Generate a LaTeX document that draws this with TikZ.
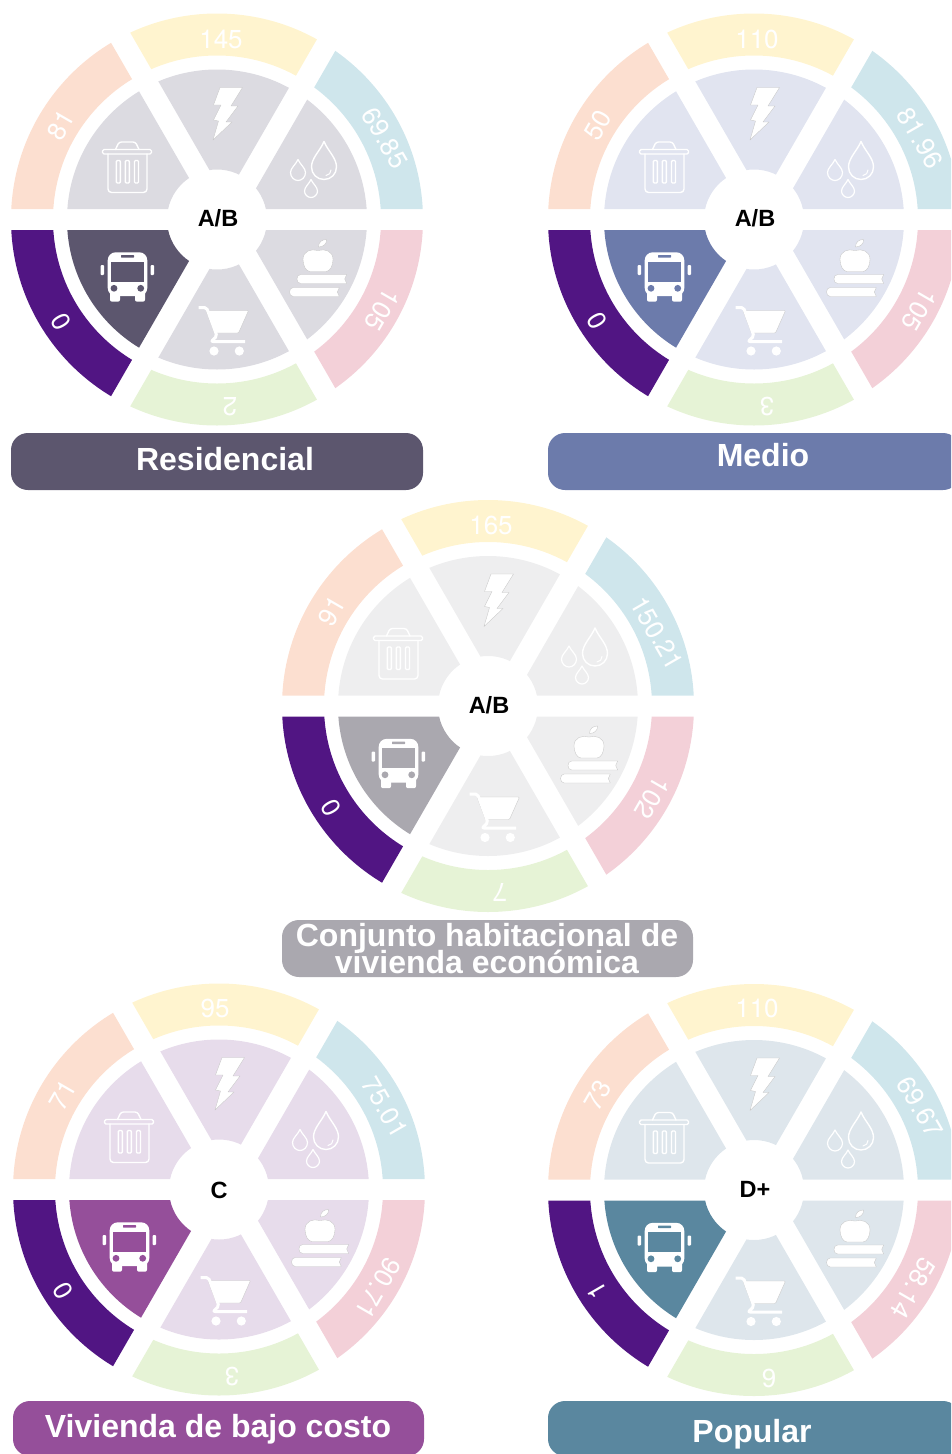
\documentclass[tikz,border=0pt]{standalone}
\usepackage{graphicx}
\usepackage{fontspec}
\setmainfont{Liberation Sans}
\newfontfamily\ringfont{TeX Gyre Heros}
\definecolor{ringPeach}{HTML}{FCDFD0}
\definecolor{ringYellow}{HTML}{FFF4CF}
\definecolor{ringBlue}{HTML}{CFE6EC}
\definecolor{ringPink}{HTML}{F3D0D8}
\definecolor{ringGreen}{HTML}{E6F3D6}
\definecolor{ringPurple}{HTML}{511583}
\definecolor{darkA}{HTML}{5C566E}\definecolor{lightA}{HTML}{DCDBE1}
\definecolor{darkB}{HTML}{6C7BAB}\definecolor{lightB}{HTML}{E1E4F0}
\definecolor{darkC}{HTML}{AAA8AF}\definecolor{lightC}{HTML}{EEEEEF}
\definecolor{darkD}{HTML}{954F9A}\definecolor{lightD}{HTML}{E7DCEB}
\definecolor{darkE}{HTML}{5A879F}\definecolor{lightE}{HTML}{DEE6EC}
\tikzset{
  ringtext/.style={text=white,inner sep=0pt,font=\ringfont\fontsize{26}{26}\selectfont},
  hubtext/.style={text=black,inner sep=0pt,font=\bfseries\fontsize{23.5}{23.5}\selectfont},
  pilltext/.style={text=white,inner sep=0pt,anchor=base,align=center,font=\bfseries\fontsize{32}{27}\selectfont},
  pill/.style={rounded corners=17pt},
  iconline/.style={draw=white,line width=1.4pt,line join=round,line cap=round},
  iconfill/.style={fill=white,draw=black!22,line width=.35pt,line join=round},
}
\newcommand{\annsec}[4]{\begin{scope}\clip #1;\fill[#2,even odd rule] (0,0) circle[radius=#3] (0,0) circle[radius=#4];\end{scope}}
\newcommand{\secs}[8]{%
  \annsec{(27.06,-10.5)--(400,-10.5)--(400,-270.5)--(177.06,-270.5)--cycle}{#3}{#1}{#2}%
  \annsec{(27.06,10.5)--(400,10.5)--(400,270.5)--(177.06,270.5)--cycle}{#4}{#1}{#2}%
  \annsec{(8.5,21.67)--(158.5,281.67)--(-141.5,281.67)--cycle}{#5}{#1}{#2}%
  \annsec{(-10.06,10.5)--(-400,10.5)--(-400,270.5)--(-160.06,270.5)--cycle}{#6}{#1}{#2}%
  \annsec{(-10.06,-10.5)--(-400,-10.5)--(-400,-270.5)--(-160.06,-270.5)--cycle}{#7}{#1}{#2}%
  \annsec{(8.5,-21.67)--(158.5,-281.67)--(-141.5,-281.67)--cycle}{#8}{#1}{#2}%
}
\newcommand{\booksh}[4]{%
  \path[iconfill] ({#1+4},#3) -- (#2,#3) -- ({#2-2},{(#3+#4)/2}) -- (#2,#4) -- ({#1+4},#4)
    .. controls ({#1-1},#4) and ({#1-1},#3) .. ({#1+4},#3) -- cycle;}
\newcommand{\ringlab}[5]{\node[ringtext] (#1) at (#2,#3) {\rotatebox{#4}{#5}};}
\newcommand{\wheel}[4]{%
\begin{scope}[shift={(#1,#2)}]
  \secs{164}{206}{ringBlue}{ringPink}{ringGreen}{ringPurple}{ringPeach}{ringYellow}
  \secs{50}{150}{#3}{#3}{#3}{#4}{#3}{#3}
\end{scope}
\begin{scope}[shift={({#1-217},{#2-219.5})}]
  \draw[iconline,rounded corners=1.5pt] (102.5,149.5) rectangle (151.5,154);
  \draw[iconline,rounded corners=2.5pt] (115.5,149.5) -- (119,142) -- (135.5,142) -- (139,149.5);
  \draw[iconline,rounded corners=3.5pt] (108,154) -- (108,192.5) -- (147,192.5) -- (147,154);
  \draw[iconline,rounded corners=1pt] (116.3,160.5) rectangle (120.3,183);
  \draw[iconline,rounded corners=1pt] (125.3,160.5) rectangle (129.3,183);
  \draw[iconline,rounded corners=1pt] (134.5,160.5) rectangle (138.5,183);
  \path[iconfill] (220,87.5) -- (242.5,87.5) -- (231,106) -- (238,106) -- (226,122) -- (232,122)
    -- (213,140) -- (218.5,121) -- (213.5,120) -- (221,105) -- (213.5,105) -- cycle;
  \draw[iconline] (324,141.5) .. controls (320,151) and (311.5,158) .. (311.5,167)
    .. controls (311.5,174) and (317,179.5) .. (324,179.5)
    .. controls (331,179.5) and (336.5,174) .. (336.5,167)
    .. controls (336.5,158) and (328,151) .. (324,141.5) -- cycle;
  \draw[white,line width=1pt,line cap=round] (331,170) .. controls (331,173) and (329,175) .. (326,175.5);
  \draw[iconline,line width=1.2pt] (298,159.5) .. controls (295.5,165) and (290.5,168) .. (290.5,172.5)
    .. controls (290.5,177) and (294,180.5) .. (298,180.5)
    .. controls (302,180.5) and (305.5,177) .. (305.5,172.5)
    .. controls (305.5,168) and (300.5,165) .. (298,159.5) -- cycle;
  \draw[iconline,line width=1.2pt] (311,179.5) .. controls (309,184) and (304.5,187) .. (304.5,191)
    .. controls (304.5,194.5) and (307.5,197.5) .. (311,197.5)
    .. controls (314.5,197.5) and (317.5,194.5) .. (317.5,191)
    .. controls (317.5,187) and (313,184) .. (311,179.5) -- cycle;
  \path[iconfill] (318,250.5) .. controls (325,248.5) and (333,251) .. (333,259.5)
    .. controls (333,265.5) and (330,271.5) .. (326,271.5) -- (310,271.5)
    .. controls (306,271.5) and (303,265.5) .. (303,259.5)
    .. controls (303,251) and (311,248.5) .. (318,250.5) -- cycle;
  \path[iconfill] (318.5,247) .. controls (318.5,242) and (322,239.5) .. (326.5,239.5)
    .. controls (327,244) and (323,247) .. (318.5,247) -- cycle;
  \booksh{296.7}{346.7}{274.5}{283.5}
  \booksh{289.3}{339.3}{287.5}{296.5}
  \path[iconfill,rounded corners=1pt] (206,310.5) -- (248.5,310.5) -- (238.5,333) -- (214.5,333) -- cycle;
  \draw[iconline,line width=3pt,line cap=butt,rounded corners=2pt] (198.5,307.5) -- (206.5,307.5) -- (217,336) -- (211,341.5) -- (245,341.5);
  \fill[white] (214,351) circle[radius=4.6] (239.3,351) circle[radius=4.6];
  \fill[white,rounded corners=8pt] (107.7,252.3) rectangle (147.3,296);
  \fill[white,rounded corners=2pt] (110,290) rectangle (120,301.7) (135,290) rectangle (145,301.7);
  \fill[white,rounded corners=.8pt] (100.7,265) rectangle (104,275) (150.7,265) rectangle (154,275);
  \fill[#4] (110.7,261.7) rectangle (144,281.7);
  \fill[#4,rounded corners=.5pt] (121,255) rectangle (134,257.7);
  \fill[#4] (114,288.3) circle[radius=3.4] (140.7,288.3) circle[radius=3.4];
\end{scope}}
\begin{document}
\begin{tikzpicture}[x=1pt,y=-1pt]
\useasboundingbox (0,0) rectangle (951,1454);
\clip (0,0) rectangle (951,1454);

% ---------- Residencial
\wheel{217}{219.5}{lightA}{darkA}
\node[hubtext] (hubA) at (218,218.5) {A/B};
\ringlab{a1}{221}{39}{0}{145}
\ringlab{a2}{385}{138}{-60}{69.85}
\ringlab{a3}{382}{310}{-120}{105}
\ringlab{a4}{230}{407}{180}{2}
\ringlab{a5}{61}{322}{120}{0}
\ringlab{a6}{61}{125}{60}{81}
\fill[darkA,pill] (11,433) rectangle (423,490);
\node[pilltext] (pillA) at (225,470) {Residencial};

% ---------- Medio
\wheel{754}{219.5}{lightB}{darkB}
\node[hubtext] (hubB) at (755,218.5) {A/B};
\ringlab{b1}{757}{39}{0}{110}
\ringlab{b2}{920}{138}{-60}{81.96}
\ringlab{b3}{919}{310}{-120}{105}
\ringlab{b4}{767}{407}{180}{3}
\ringlab{b5}{597}{321}{120}{0}
\ringlab{b6}{598}{125}{60}{50}
\fill[darkB,pill] (548,433) rectangle (960,490);
\node[pilltext] (pillB) at (763,466) {Medio};

% ---------- Conjunto
\wheel{488}{706}{lightC}{darkC}
\node[hubtext] (hubC) at (489,705.5) {A/B};
\ringlab{c1}{491}{525}{0}{165}
\ringlab{c2}{657}{633}{-60}{150.21}
\ringlab{c3}{652}{798}{-120}{102}
\ringlab{c4}{500}{893}{180}{7}
\ringlab{c5}{331}{808}{120}{0}
\ringlab{c6}{332}{611}{60}{91}
\fill[darkC,pill] (282,920) rectangle (693,977);
\node[pilltext,anchor=center] (pillC) at (487,948.5) {Conjunto habitacional de\\[-3.5pt]vivienda económica};

% ---------- Vivienda de bajo costo
\wheel{219}{1189.5}{lightD}{darkD}
\node[hubtext] (hubD) at (219,1190.5) {C};
\ringlab{d1}{215}{1008}{0}{95}
\ringlab{d2}{385}{1107}{-60}{75.01}
\ringlab{d3}{378}{1288}{-120}{90.71}
\ringlab{d4}{232}{1377}{180}{3}
\ringlab{d5}{63}{1291}{120}{0}
\ringlab{d6}{63}{1095}{60}{71}
\fill[darkD,pill] (13,1401) rectangle (424,1456);
\node[pilltext] (pillD) at (218,1437.3) {Vivienda de bajo costo};

% ---------- Popular
\wheel{754}{1190}{lightE}{darkE}
\node[hubtext] (hubE) at (755,1189.5) {D+};
\ringlab{e1}{757}{1008}{0}{110}
\ringlab{e2}{920}{1107}{-60}{69.67}
\ringlab{e3}{913}{1288}{-120}{58.14}
\ringlab{e4}{769}{1378}{0}{9}
\ringlab{e5}{597}{1291}{120}{1}
\ringlab{e6}{598}{1095}{60}{73}
\fill[darkE,pill] (548,1401) rectangle (960,1456);
\node[pilltext] (pillE) at (752,1442.7) {Popular};
\end{tikzpicture}
\end{document}
